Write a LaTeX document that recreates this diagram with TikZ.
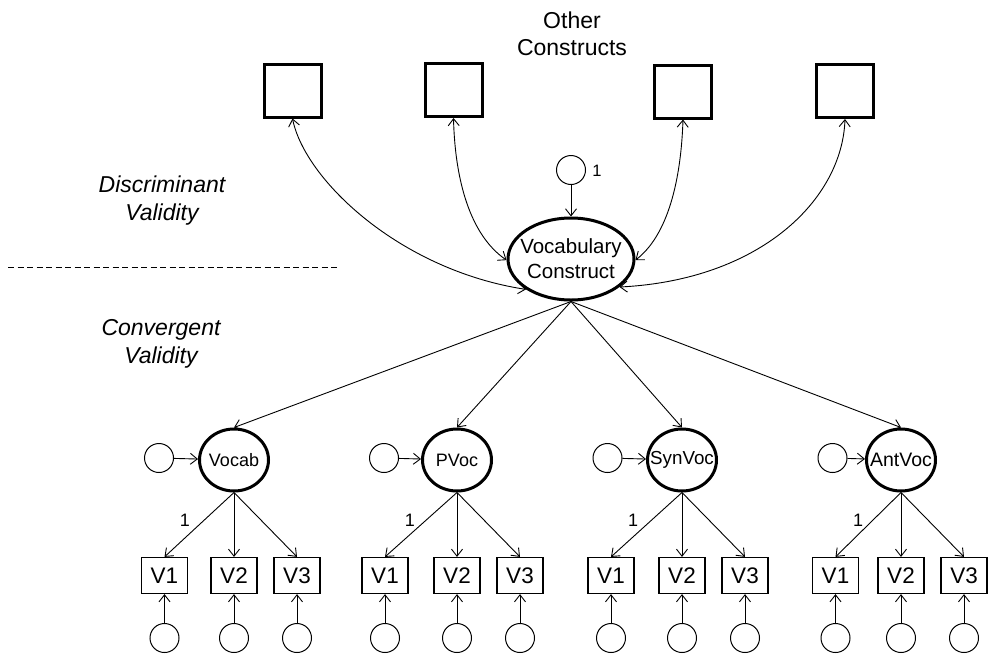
\documentclass[tikz,border=0pt]{standalone}
\usepackage{fontspec}
\setmainfont{Liberation Sans}
\usetikzlibrary{shapes.geometric,arrows.meta}
\begin{document}
\begin{tikzpicture}[x=1pt,y=-1pt,
  tip/.tip={Straight Barb[length=7pt,width=11pt]},
  arr/.style={line width=0.9pt,-tip},
  dbl/.style={line width=0.9pt,tip-tip},
  bigsq/.style={draw,line width=3pt,minimum width=57pt,minimum height=53pt,inner sep=0pt},
  latent/.style={draw,ellipse,line width=3pt,inner sep=0pt},
  err/.style={draw,circle,line width=1pt,minimum size=29pt,inner sep=0pt},
  obs/.style={draw,line width=1.2pt,minimum width=46pt,minimum height=36pt,inner sep=0pt,font=\fontsize{22.5}{22.5}\selectfont},
  head/.style={align=center,font=\fontsize{23}{27}\selectfont},
  side/.style={align=center,font=\fontsize{23}{28}\selectfont\itshape},
  num/.style={inner sep=0pt,font=\fontsize{18}{18}\selectfont}
]
\useasboundingbox (0,0) rectangle (988,654);

% header
\node[head] (other) at (572,34) {Other\\Constructs};
\node[side] (disc) at (162,201) {Discriminant\\Validity};
\node[side] (conv) at (161,344) {Convergent\\Validity};
\coordinate (dl) at (8,267);
\coordinate (dr) at (337,267);
\draw[line width=1pt,dash pattern=on 6pt off 3.5pt] (dl) -- (dr);

% other constructs
\node[bigsq] (s1) at (292.5,90.5) {};
\node[bigsq] (s2) at (453.5,90) {};
\node[bigsq] (s3) at (683,91.5) {};
\node[bigsq] (s4) at (845,91) {};

% central construct
\node[latent,minimum width=126pt,minimum height=82pt,
  label={[align=center,font=\fontsize{20.5}{25}\selectfont]center:Vocabulary\\Construct}] (vc) at (571,259) {};
\node[err] (tc) at (571,170) {};
\node[num,font=\fontsize{16.5}{16.5}\selectfont] (tone) at (597,171) {1};
\draw[arr] (tc) -- (vc.north);

% correlations
\draw[dbl] (s1.south) .. controls (305,180) and (400,270) .. (vc.214);
\draw[dbl] (s2.south) .. controls (455,180) and (470,235) .. (vc.181);
\draw[dbl] (s3.south) .. controls (681,180) and (668,235) .. (vc.359);
\draw[dbl] (s4.south) .. controls (842,200) and (760,280) .. (vc.330);

% first-order factors
\foreach \id/\txt/\ex/\ec/\vx/\fsz/\ox in {a/Vocab/234/159/164.5/18/49, b/PVoc/457/384/385/18/47, c/SynVoc/682/607.5/611/18.8/49, d/AntVoc/901/832.5/835.5/19.5/43}{
  \node[latent,minimum width=69pt,minimum height=62pt,
    label={[font=\fontsize{\fsz}{\fsz}\selectfont]center:\txt}] (L\id) at (\ex,460) {};
  \node[err] (E\id) at (\ec,458) {};
  \draw[arr] (E\id) -- (L\id);
  \draw[arr] (vc.south) -- (L\id.north);
  \node[obs] (V\id1) at (\vx,575.5) {V1};
  \node[obs] (V\id2) at (\ex,575.5) {V2};
  \node[obs] (V\id3) at (\ex+63,575.5) {V3};
  \node[num] (one\id) at (\ex-\ox,520) {1};
  \foreach \k in {1,2,3}{
    \path (V\id\k) ++(0,62.5) node[err] (U\id\k) {};
    \draw[arr] (U\id\k) -- (V\id\k);
    \draw[arr] (L\id.south) -- (V\id\k.north);
  }
}
\end{tikzpicture}
\end{document}
